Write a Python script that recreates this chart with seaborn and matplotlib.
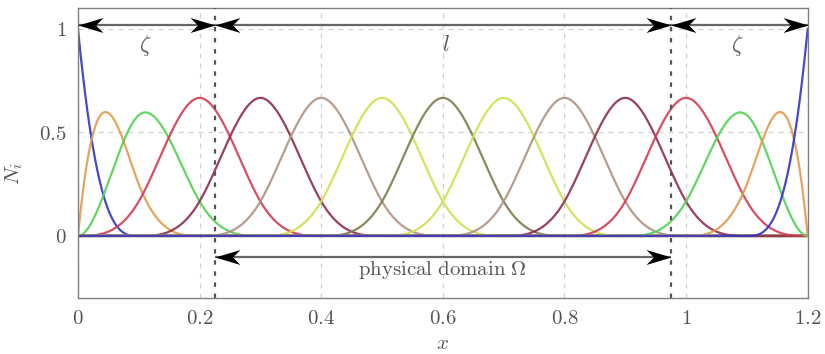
import numpy as np
import pandas as pd
import matplotlib
matplotlib.use("Agg")
import matplotlib.pyplot as plt
from matplotlib.path import Path
import seaborn as sns

# ---- data ----
degree = 3
knots = [0.0, 0.0, 0.0, 0.0, 0.1, 0.2, 0.3, 0.4, 0.5, 0.6, 0.7, 0.8, 0.9, 1.0,
         1.1, 1.2, 1.2, 1.2, 1.2]
curve_colors = ["#3434c4", "#e39a4c", "#52d252", "#d23c52", "#8e2c4e",
                "#ae9282", "#cde24e", "#7e7c4e", "#cde24e", "#ae9282",
                "#8e2c4e", "#d23c52", "#52d252", "#e39a4c", "#3434c4"]
domain_left, domain_right = 0.225, 0.975
xticks = [0, 0.2, 0.4, 0.6, 0.8, 1.0, 1.2]
xticklabels = ["0", "0.2", "0.4", "0.6", "0.8", "1", "1.2"]
yticks = [0, 0.5, 1]
yticklabels = ["0", "0.5", "1"]


def bspline_basis(t, p, x):
    t = np.asarray(t, float)
    n = len(t) - 1
    N = np.zeros((n, len(x)))
    for i in range(n):
        N[i] = ((x >= t[i]) & (x < t[i + 1])).astype(float)
    last = max(i for i in range(n) if t[i] < t[i + 1])
    N[last, x >= t[-1]] = 1.0
    for k in range(1, p + 1):
        Nk = np.zeros((n - k, len(x)))
        for i in range(n - k):
            a = np.zeros_like(x)
            b = np.zeros_like(x)
            if t[i + k] > t[i]:
                a = (x - t[i]) / (t[i + k] - t[i]) * N[i]
            if t[i + k + 1] > t[i + 1]:
                b = (t[i + k + 1] - x) / (t[i + k + 1] - t[i + 1]) * N[i + 1]
            Nk[i] = a + b
        N = Nk
    return N


xs = np.linspace(knots[0], knots[-1], 1201)
B = bspline_basis(knots, degree, xs)
frames = []
for i in range(B.shape[0]):
    frames.append(pd.DataFrame({"x": xs, "N": B[i], "basis": i}))
df = pd.concat(frames, ignore_index=True)

# ---- plot ----
sns.set_theme(style="white")
plt.rcParams["mathtext.fontset"] = "cm"
plt.rcParams["font.family"] = ["DejaVu Serif"]

fig = plt.figure(figsize=(8.25, 3.54), dpi=100)
ax = fig.add_axes([0.0945, 0.158, 0.8845, 0.819])

sns.lineplot(data=df, x="x", y="N", hue="basis", palette=curve_colors,
             legend=False, ax=ax, linewidth=1.6, alpha=0.9, sort=False)

ax.set_xlim(0, 1.2)
ax.set_ylim(-0.3, 1.1)
ax.set_xticks(xticks)
ax.set_xticklabels(["$" + s + "$" for s in xticklabels])
ax.set_yticks(yticks)
ax.set_yticklabels(["$" + s + "$" for s in yticklabels])
ax.tick_params(length=0, labelsize=15, colors="#555555", pad=8)
ax.grid(True, color="#d0d0d0", linestyle=(0, (4, 4)), linewidth=0.9)
ax.set_axisbelow(True)
for s in ax.spines.values():
    s.set_color("#808080")
    s.set_linewidth(1.0)
ax.set_xlabel("$x$", fontsize=15, color="#555555", labelpad=4)
ax.set_ylabel("$N_i$", fontsize=15, color="#555555")
ax.yaxis.set_label_coords(-0.072, 0.43)

# physical domain boundaries
for xv in (domain_left, domain_right):
    ax.axvline(xv, color="#555555", linestyle=(0, (2, 3)), linewidth=1.6, zorder=5)

# stealth-like arrow heads (tip at the origin)
codes = [Path.MOVETO, Path.LINETO, Path.LINETO, Path.LINETO, Path.CLOSEPOLY]
head_right = Path([(0, 0), (-1, 0.3), (-0.7, 0), (-1, -0.3), (0, 0)], codes)
head_left = Path([(0, 0), (1, 0.3), (0.7, 0), (1, -0.3), (0, 0)], codes)


def double_arrow(x0, x1, y):
    ax.plot([x0, x1], [y, y], color="#666666", linewidth=1.6, zorder=6,
            solid_capstyle="butt")
    ax.plot([x0], [y], marker=head_left, markersize=36, color="black",
            markeredgewidth=0, linestyle="none", zorder=7, clip_on=False)
    ax.plot([x1], [y], marker=head_right, markersize=36, color="black",
            markeredgewidth=0, linestyle="none", zorder=7, clip_on=False)


y_top = 1.02
double_arrow(0.0, domain_left, y_top)
double_arrow(domain_left, domain_right, y_top)
double_arrow(domain_right, 1.2, y_top)
double_arrow(domain_left, domain_right, -0.1)

tcol = "#555555"
ax.text(0.11, 0.92, r"$\zeta$", ha="center", va="center", fontsize=16, color=tcol)
ax.text(0.605, 0.92, r"$l$", ha="center", va="center", fontsize=16, color=tcol)
ax.text(1.085, 0.92, r"$\zeta$", ha="center", va="center", fontsize=16, color=tcol)
ax.text(0.6, -0.165, r"$\mathrm{physical\ domain}\ \Omega$", ha="center", va="center",
        fontsize=15, color=tcol)

fig.savefig("out.png", dpi=100)
